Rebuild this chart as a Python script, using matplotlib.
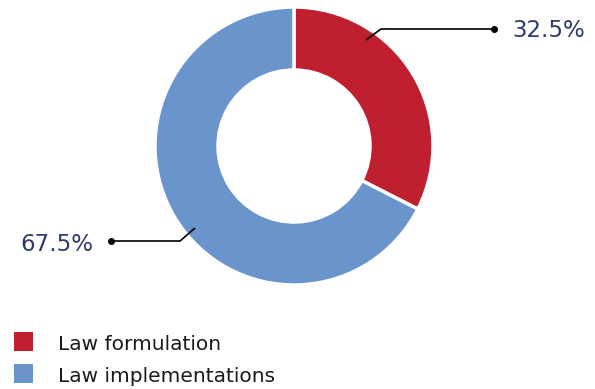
import matplotlib.pyplot as plt
from matplotlib.patches import Rectangle

labels = ['Law formulation', 'Law implementations']
shares = [32.5, 67.5]
colors = ['#C01F30', '#6A94CC']
text_color = '#2E3A6B'

plt.rcParams['font.family'] = ['DejaVu Sans']

W, H = 595, 389
fig = plt.figure(figsize=(W / 100, H / 100), dpi=100)
ax = fig.add_axes([0, 0, 1, 1])

# donut, drawn in pixel units
cx, cy, r = 294, H - 146, 139
ax.pie(shares, colors=colors, startangle=90, counterclock=False,
       center=(cx, cy), radius=r, frame=True,
       wedgeprops=dict(width=63, edgecolor='white', linewidth=2.5))
ax.set_xlim(0, W)
ax.set_ylim(0, H)
ax.axis('off')

# leader lines with dots and value labels
def leader(pts, text, tx, ty, ha):
    xs = [p[0] for p in pts]
    ys = [H - p[1] for p in pts]
    ax.plot(xs, ys, color='black', lw=1.2, solid_capstyle='butt')
    ax.plot(xs[-1], ys[-1], 'o', color='black', ms=4)
    ax.text(tx, H - ty, text, color=text_color, fontsize=16.5,
            ha=ha, va='baseline')

leader([(366, 40), (381, 29), (494, 29)], f'{shares[0]}%', 512, 37, 'left')
leader([(195, 228), (180, 241), (111, 241)], f'{shares[1]}%', 93, 251, 'right')

# legend
for i, (lab, col) in enumerate(zip(labels, colors)):
    y = 341 + i * 32
    ax.add_patch(Rectangle((14, H - y - 9.5), 19, 19, color=col, lw=0))
    ax.text(58, H - (y + 9), lab, fontsize=14.5, color='#1a1a1a',
            va='baseline', ha='left')

fig.savefig('out.png', dpi=100)
